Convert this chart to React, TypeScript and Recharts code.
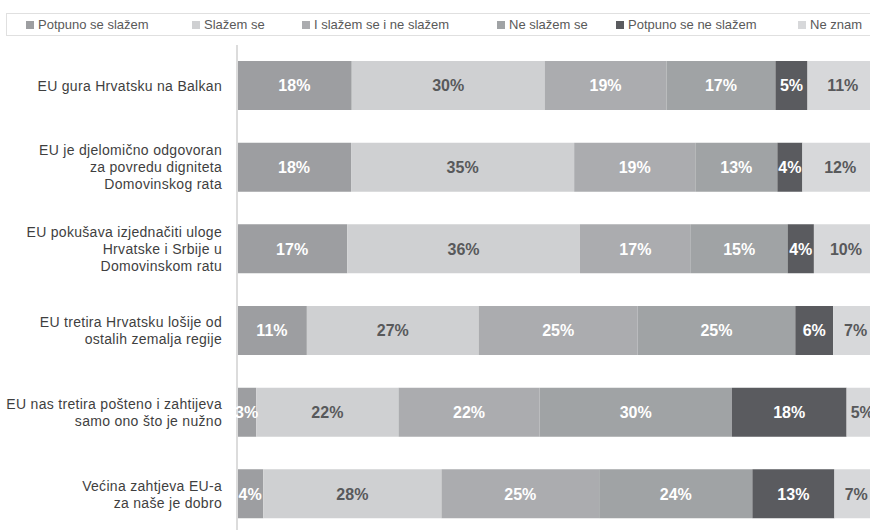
import { Bar, BarChart, LabelList, XAxis, YAxis } from 'recharts'

const categories = [
  'EU gura Hrvatsku na Balkan',
  'EU je djelomično odgovoran\nza povredu digniteta\nDomovinskog rata',
  'EU pokušava izjednačiti uloge\nHrvatske i Srbije u\nDomovinskom ratu',
  'EU tretira Hrvatsku lošije od\nostalih zemalja regije',
  'EU nas tretira pošteno i zahtijeva\nsamo ono što je nužno',
  'Većina zahtjeva EU-a\nza naše je dobro',
]

const potpunoSlazem = [17.9, 17.8, 17.2, 10.9, 3.0, 4.1]
const slazem = [30.1, 34.8, 36.3, 26.8, 22.2, 27.8]
const niNe = [19.0, 18.9, 17.3, 24.8, 22.0, 24.6]
const neSlazem = [17.0, 12.8, 15.1, 24.6, 30.0, 23.9]
const potpunoNe = [5.0, 3.9, 4.1, 5.9, 17.9, 12.8]
const neZnam = [11.0, 11.8, 10.0, 7.0, 4.9, 6.8]

const seriesNames = [
  'Potpuno se slažem',
  'Slažem se',
  'I slažem se i ne slažem',
  'Ne slažem se',
  'Potpuno se ne slažem',
  'Ne znam',
]

const data = categories.map((name, i) => ({
  name,
  s0: potpunoSlazem[i],
  s1: slazem[i],
  s2: niNe[i],
  s3: neSlazem[i],
  s4: potpunoNe[i],
  s5: neZnam[i],
}))

const fills = ['#9d9ea1', '#cfd0d2', '#abacaf', '#a0a3a5', '#5a5b5f', '#d7d8da']
const labelFills = ['#ffffff', '#58595b', '#ffffff', '#ffffff', '#ffffff', '#58595b']
const legendLeft = [19, 185, 295, 490, 609, 791]

const font = '"Liberation Sans", Arial, sans-serif'

function CategoryTick({ x, y, payload }: any) {
  const lines = String(payload.value).split('\n')
  const lh = 17
  const start = y - ((lines.length - 1) * lh) / 2
  return (
    <text textAnchor="end" fill="#3f3f3f" fontSize={14} letterSpacing={0.3} fontFamily={font}>
      {lines.map((l, i) => (
        <tspan key={i} x={x} y={start + i * lh} dy="0.35em">
          {l}
        </tspan>
      ))}
    </text>
  )
}

export default function App() {
  return (
    <div
      style={{
        position: 'absolute',
        left: 0,
        top: 0,
        width: 870,
        height: 530,
        overflow: 'hidden',
        background: '#fff',
        fontFamily: font,
      }}
    >
      <div
        style={{
          position: 'absolute',
          left: 6,
          top: 13,
          width: 880,
          height: 23,
          border: '1px solid #e0e0e0',
          boxSizing: 'border-box',
        }}
      >
        {seriesNames.map((n, i) => (
          <div
            key={n}
            style={{
              position: 'absolute',
              left: legendLeft[i],
              top: 3,
              fontSize: 13,
              color: '#595959',
              display: 'flex',
              alignItems: 'center',
              whiteSpace: 'nowrap',
            }}
          >
            <span style={{ width: 8, height: 8, background: fills[i], marginRight: 4, display: 'inline-block' }} />
            {n}
          </div>
        ))}
      </div>

      <BarChart
        width={878}
        height={535}
        data={data}
        layout="vertical"
        margin={{ top: 45, right: 0, bottom: 0, left: 0 }}
        style={{ position: 'absolute', left: 0, top: 0 }}
      >
        <XAxis type="number" domain={[0, 100]} hide />
        <YAxis
          type="category"
          dataKey="name"
          width={237}
          axisLine={{ stroke: '#dcdcdc', strokeWidth: 2 }}
          tickLine={false}
          tickMargin={9}
          tick={<CategoryTick />}
          interval={0}
        />
        {['s0', 's1', 's2', 's3', 's4', 's5'].map((k, i) => (
          <Bar key={k} dataKey={k} stackId="a" fill={fills[i]} barSize={49} isAnimationActive={false}>
            <LabelList
              dataKey={k}
              position="center"
              formatter={(v: any) => `${Math.round(Number(v))}%`}
              fill={labelFills[i]}
              fontSize={16}
              fontWeight="bold"
              fontFamily={font}
            />
          </Bar>
        ))}
      </BarChart>
    </div>
  )
}
